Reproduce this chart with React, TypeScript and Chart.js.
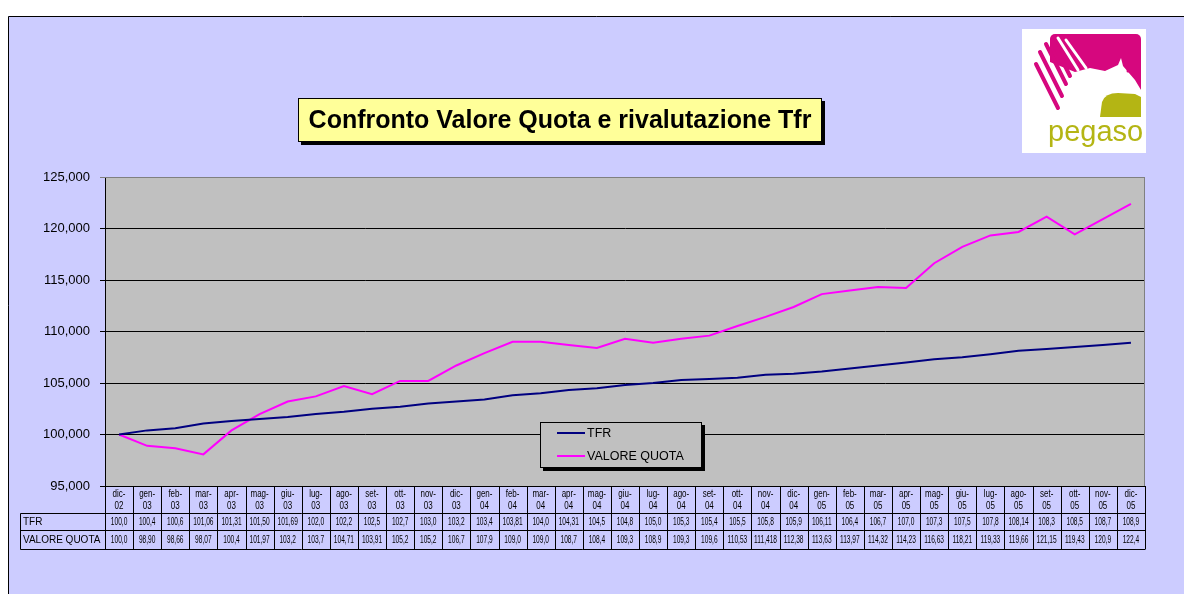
import React, { useEffect, useRef } from "react";
import { Chart, registerables } from "chart.js";

Chart.register(...registerables);

const CATEGORIES = [
  "dic-02", "gen-03", "feb-03", "mar-03", "apr-03", "mag-03", "giu-03", "lug-03", "ago-03", "set-03", "ott-03", "nov-03",
  "dic-03", "gen-04", "feb-04", "mar-04", "apr-04", "mag-04", "giu-04", "lug-04", "ago-04", "set-04", "ott-04", "nov-04",
  "dic-04", "gen-05", "feb-05", "mar-05", "apr-05", "mag-05", "giu-05", "lug-05", "ago-05", "set-05", "ott-05", "nov-05",
  "dic-05",
];

const TFR_TEXT = [
  "100,0", "100,4", "100,6", "101,06", "101,31", "101,50", "101,69", "102,0", "102,2", "102,5", "102,7", "103,0",
  "103,2", "103,4", "103,81", "104,0", "104,31", "104,5", "104,8", "105,0", "105,3", "105,4", "105,5", "105,8",
  "105,9", "106,11", "106,4", "106,7", "107,0", "107,3", "107,5", "107,8", "108,14", "108,3", "108,5", "108,7",
  "108,9",
];

const QUOTA_TEXT = [
  "100,0", "98,90", "98,66", "98,07", "100,4", "101,97", "103,2", "103,7", "104,71", "103,91", "105,2", "105,2",
  "106,7", "107,9", "109,0", "109,0", "108,7", "108,4", "109,3", "108,9", "109,3", "109,6", "110,53", "111,418",
  "112,38", "113,63", "113,97", "114,32", "114,23", "116,63", "118,21", "119,33", "119,66", "121,15", "119,43", "120,9",
  "122,4",
];

const SERIES_NAMES = ["TFR", "VALORE QUOTA"];
const TITLE = "Confronto Valore Quota e rivalutazione Tfr";
const Y_MIN = 95;
const Y_MAX = 125;
const Y_STEP = 5;

const toNum = (s: string) => parseFloat(s.replace(",", "."));
const TFR_VALUES = TFR_TEXT.map(toNum);
const QUOTA_VALUES = QUOTA_TEXT.map(toNum);

const FONT = "'Liberation Sans', Arial, sans-serif";
const TFR_COLOR = "#000080";
const QUOTA_COLOR = "#FF00FF";

function fitText(ctx: CanvasRenderingContext2D, text: string, x: number, y: number, scale: number, maxW: number) {
  const w = ctx.measureText(text).width;
  ctx.fillText(text, x, y, Math.min(w * scale, maxW));
}

const framePlugin = {
  id: "frame",
  beforeDraw(chart: any) {
    const { ctx, width, height, chartArea } = chart;
    ctx.save();
    ctx.fillStyle = "#ffffff";
    ctx.fillRect(0, 0, width, height);
    ctx.fillStyle = "#CCCCFF";
    ctx.fillRect(8, 16, width - 8, height - 16);
    ctx.strokeStyle = "#000";
    ctx.lineWidth = 1;
    ctx.beginPath();
    ctx.moveTo(8.5, height);
    ctx.lineTo(8.5, 16.5);
    ctx.lineTo(width, 16.5);
    ctx.stroke();
    ctx.fillStyle = "#C0C0C0";
    ctx.fillRect(chartArea.left, chartArea.top, chartArea.right - chartArea.left, chartArea.bottom - chartArea.top);
    ctx.restore();
  },
  afterDraw(chart: any) {
    const { ctx, chartArea } = chart;
    const xs = chart.scales.x;
    const L = chartArea.left;
    const R = chartArea.right;
    const B = chartArea.bottom;
    const T = chartArea.top;
    const n = CATEGORIES.length;
    const cw = (R - L) / n;
    ctx.save();

    ctx.strokeStyle = "#808080";
    ctx.lineWidth = 1;
    ctx.beginPath();
    ctx.moveTo(L, T + 0.5);
    ctx.lineTo(R - 0.5, T + 0.5);
    ctx.lineTo(R - 0.5, B);
    ctx.stroke();

    const row1 = 513.5;
    const row2 = 530.5;
    const row3 = 549.5;
    const headL = 20.5;
    ctx.strokeStyle = "#000";
    ctx.beginPath();
    ctx.moveTo(L, B + 0.5);
    ctx.lineTo(R, B + 0.5);
    for (const y of [row1, row2, row3]) {
      ctx.moveTo(headL, y);
      ctx.lineTo(R, y);
    }
    ctx.moveTo(headL, row1);
    ctx.lineTo(headL, row3);
    for (let i = 0; i <= n; i++) {
      const x = Math.round(L + i * cw) + 0.5;
      ctx.moveTo(x, B);
      ctx.lineTo(x, row3);
    }
    ctx.stroke();

    ctx.fillStyle = "#000";
    ctx.textBaseline = "middle";
    ctx.textAlign = "left";
    ctx.font = `10px ${FONT}`;
    ctx.fillText(SERIES_NAMES[0], 23, (row1 + row2) / 2 + 0.5);
    ctx.fillText(SERIES_NAMES[1], 23, (row2 + row3) / 2 + 0.5);

    ctx.textAlign = "center";
    for (let i = 0; i < n; i++) {
      const cx = xs.getPixelForValue(i);
      const [a, b] = CATEGORIES[i].split("-");
      ctx.font = `10px ${FONT}`;
      fitText(ctx, a + "-", cx, B + 8, 0.8, cw - 3);
      fitText(ctx, b, cx, B + 20, 0.8, cw - 3);
      fitText(ctx, TFR_TEXT[i], cx, (row1 + row2) / 2 + 0.5, 0.66, cw - 2);
      fitText(ctx, QUOTA_TEXT[i], cx, (row2 + row3) / 2 + 0.5, 0.66, cw - 2);
    }

    // title box
    const tx = 298, ty = 98, tw = 524, th = 44;
    ctx.fillStyle = "#000";
    ctx.fillRect(tx + 3, ty + 3, tw, th);
    ctx.fillStyle = "#FFFF99";
    ctx.fillRect(tx, ty, tw, th);
    ctx.strokeStyle = "#000";
    ctx.strokeRect(tx + 0.5, ty + 0.5, tw - 1, th - 1);
    ctx.fillStyle = "#000";
    ctx.font = `bold 25px ${FONT}`;
    ctx.textAlign = "center";
    ctx.fillText(TITLE, tx + tw / 2, ty + th / 2 + 1, 512);

    // logo
    ctx.fillStyle = "#ffffff";
    ctx.fillRect(1022, 29, 124, 124);
    const pink = "#D6077E";
    ctx.fillStyle = pink;
    ctx.beginPath();
    (ctx as any).roundRect(1050, 34, 91, 60, 5);
    ctx.fill();
    ctx.fillStyle = "#ffffff";
    ctx.beginPath();
    ctx.moveTo(1050, 62);
    ctx.lineTo(1075, 72);
    ctx.lineTo(1090, 68);
    ctx.lineTo(1105, 71);
    ctx.lineTo(1118, 65);
    ctx.lineTo(1121, 58);
    ctx.lineTo(1123, 66);
    ctx.lineTo(1135, 80);
    ctx.lineTo(1141, 90);
    ctx.lineTo(1141, 94);
    ctx.lineTo(1050, 94);
    ctx.closePath();
    ctx.fill();
    ctx.strokeStyle = "#ffffff";
    ctx.lineCap = "round";
    ctx.lineWidth = 3;
    ctx.beginPath();
    ctx.moveTo(1058, 38); ctx.lineTo(1078, 70);
    ctx.moveTo(1066, 40); ctx.lineTo(1086, 68);
    ctx.stroke();
    ctx.strokeStyle = pink;
    ctx.lineWidth = 4;
    ctx.beginPath();
    ctx.moveTo(1036, 64); ctx.lineTo(1058, 108);
    ctx.moveTo(1040, 52); ctx.lineTo(1062, 96);
    ctx.moveTo(1046, 44); ctx.lineTo(1066, 84);
    ctx.moveTo(1052, 40); ctx.lineTo(1070, 76);
    ctx.stroke();
    ctx.fillStyle = pink;
    ctx.beginPath();
    ctx.arc(1128, 71, 1.5, 0, Math.PI * 2);
    ctx.fill();
    const olive = "#B4B514";
    ctx.fillStyle = olive;
    ctx.beginPath();
    ctx.moveTo(1100, 117);
    ctx.lineTo(1102, 102);
    ctx.quadraticCurveTo(1105, 93, 1118, 93);
    ctx.lineTo(1135, 94);
    ctx.lineTo(1141, 97);
    ctx.lineTo(1141, 117);
    ctx.closePath();
    ctx.fill();
    ctx.font = `29px ${FONT}`;
    ctx.textAlign = "left";
    ctx.textBaseline = "alphabetic";
    ctx.fillText("pegaso", 1048, 141);

    ctx.restore();
  },
  afterDatasetsDraw(chart: any) {
    const { ctx } = chart;
    ctx.save();
    const lx = 540, ly = 422, lw = 162, lh = 46;
    ctx.fillStyle = "#000";
    ctx.fillRect(lx + 3, ly + 3, lw, lh);
    ctx.fillStyle = "#C0C0C0";
    ctx.fillRect(lx, ly, lw, lh);
    ctx.strokeStyle = "#000";
    ctx.lineWidth = 1;
    ctx.strokeRect(lx + 0.5, ly + 0.5, lw - 1, lh - 1);
    const colors = [TFR_COLOR, QUOTA_COLOR];
    const ys = [433, 456];
    ctx.font = `12.5px ${FONT}`;
    ctx.textBaseline = "middle";
    ctx.textAlign = "left";
    for (let i = 0; i < 2; i++) {
      ctx.strokeStyle = colors[i];
      ctx.lineWidth = 2;
      ctx.beginPath();
      ctx.moveTo(557, ys[i]);
      ctx.lineTo(585, ys[i]);
      ctx.stroke();
      ctx.fillStyle = "#000";
      ctx.fillText(SERIES_NAMES[i], 587, ys[i] + 1);
    }
    ctx.restore();
  },
};

export default function App() {
  const ref = useRef<HTMLCanvasElement>(null);
  useEffect(() => {
    if (!ref.current) return;
    const chart = new Chart(ref.current, {
      type: "line",
      data: {
        labels: CATEGORIES,
        datasets: [
          {
            label: SERIES_NAMES[0],
            data: TFR_VALUES,
            borderColor: TFR_COLOR,
            borderWidth: 2,
            pointRadius: 0,
            tension: 0,
            fill: false,
          },
          {
            label: SERIES_NAMES[1],
            data: QUOTA_VALUES,
            borderColor: QUOTA_COLOR,
            borderWidth: 2,
            pointRadius: 0,
            tension: 0,
            fill: false,
          },
        ],
      },
      options: {
        animation: false,
        responsive: false,
        devicePixelRatio: 1,
        layout: { padding: { left: 0, top: 177, right: 39, bottom: 108 } },
        plugins: { legend: { display: false }, tooltip: { enabled: false }, title: { display: false } },
        scales: {
          x: { display: false, offset: true },
          y: {
            min: Y_MIN,
            max: Y_MAX,
            afterFit: (s: any) => { s.width = 105; },
            ticks: {
              stepSize: Y_STEP,
              color: "#000",
              padding: 10,
              font: { family: FONT, size: 13 },
              callback: (v: any) => Number(v).toFixed(3).replace(".", ","),
            },
            grid: {
              color: (c: any) => (c.tick && c.tick.value === Y_MAX ? "#808080" : "#000"),
              lineWidth: 1,
              tickLength: 5,
              drawTicks: true,
            },
            border: { display: true, color: "#000", width: 1 },
          },
        },
      },
      plugins: [framePlugin],
    });
    return () => chart.destroy();
  }, []);
  return (
    <canvas
      ref={ref}
      width={1184}
      height={594}
      style={{ position: "fixed", left: 0, top: 0, width: 1184, height: 594, display: "block" }}
    />
  );
}
